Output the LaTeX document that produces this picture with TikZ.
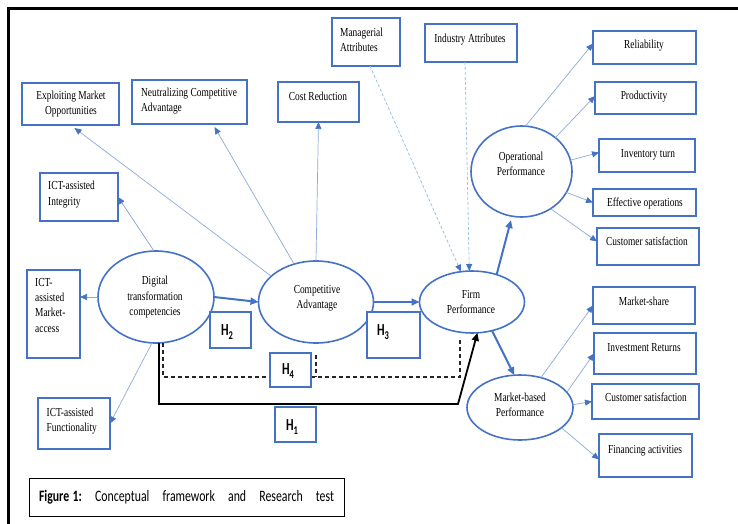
\documentclass[tikz,border=0pt]{standalone}
\usepackage{fontspec}
\setmainfont{Liberation Serif}
\newfontfamily\calfont{Carlito}
\usepackage{graphicx}
\usetikzlibrary{shapes.geometric,arrows.meta,calc}
\definecolor{bl}{HTML}{4472C4}
\definecolor{lbl}{HTML}{8EAADB}
\definecolor{dbl}{HTML}{9DC3E6}
\newcommand\txc[1]{\scalebox{1}[1.3]{\begin{tabular}{@{}c@{}}#1\end{tabular}}}
\newcommand\txl[1]{\scalebox{1}[1.3]{\begin{tabular}{@{}l@{}}#1\end{tabular}}}
\newcommand\hlab[1]{\scalebox{1}[1.4]{\calfont\bfseries H\raisebox{-2.5pt}{\fontsize{8.5}{9}\selectfont #1}}}
\begin{document}
\begin{tikzpicture}[x=1pt,y=-1pt,
  rbox/.style={draw=bl,line width=1.2pt,inner sep=0,outer sep=0},
  hbox/.style={rbox,fill=white},
  ell/.style={ellipse,draw=bl,line width=1.6pt,inner sep=0,outer sep=0},
  txt/.style={font=\fontsize{9.4}{11.8}\selectfont,inner sep=0},
  htxt/.style={font=\fontsize{12}{13}\selectfont,inner sep=0},
  tline/.style={draw=lbl,line width=0.7pt,-{Triangle[length=7pt,width=6pt,color=bl]}},
  kline/.style={draw=bl,line width=2pt,-{Triangle[length=8pt,width=7pt]}},
  dsh/.style={draw=dbl,line width=0.8pt,dash pattern=on 3pt off 2pt,-{Triangle[length=7pt,width=6pt,color=bl]}},
  hdash/.style={draw=black!85,line width=1.2pt,dash pattern=on 4pt off 3pt},
  hline/.style={draw=black,line width=1.8pt,-{Triangle[length=8pt,width=7pt]}}]
\useasboundingbox (0,0) rectangle (738,524);
\clip (0,0) rectangle (738,524);
\fill[white] (0,0) rectangle (738,524);
\draw[line width=3pt] (8.5,530) -- (8.5,9) -- (745,9);

% boxes
\node[rbox,minimum width=97,minimum height=42] (emo) at (70.5,104) {};
\node[txt] at (71,104) {\txc{Exploiting Market\\Opportunities}};
\node[rbox,minimum width=115,minimum height=44] (neu) at (189.5,102) {};
\node[txt,anchor=west] at (141,101) {\txl{Neutralizing Competitive\\Advantage}};
\node[rbox,minimum width=81,minimum height=40] (cost) at (318.5,102) {};
\node[txt] at (318,97) {\txc{Cost Reduction}};
\node[rbox,minimum width=68,minimum height=48] (mgr) at (366,42) {};
\node[txt,anchor=west] at (340,41) {\txl{Managerial\\Attributes}};
\node[rbox,minimum width=92,minimum height=38] (ind) at (471,43) {};
\node[txt] at (470,39) {\txc{Industry Attributes}};
\node[rbox,minimum width=78,minimum height=48] (int) at (79,197) {};
\node[txt,anchor=west] at (48,194.5) {\txl{ICT-assisted\\Integrity}};
\node[rbox,minimum width=53,minimum height=88] (mka) at (53.5,314) {};
\node[txt,anchor=west] at (35,306) {\txl{ICT-\\assisted\\Market-\\access}};
\node[rbox,minimum width=72,minimum height=51] (fun) at (74,423.5) {};
\node[txt,anchor=west] at (46.5,421) {\txl{ICT-assisted\\Functionality}};

\node[rbox,minimum width=103,minimum height=33] (rel) at (644.5,47.5) {};
\node[txt] at (644,45) {\txc{Reliability}};
\node[rbox,minimum width=101,minimum height=32] (pro) at (645.5,98) {};
\node[txt] at (644,96) {\txc{Productivity}};
\node[rbox,minimum width=96,minimum height=33] (inv) at (647,155.5) {};
\node[txt] at (648,154) {\txc{Inventory turn}};
\node[rbox,minimum width=103,minimum height=27] (eff) at (644.5,202.5) {};
\node[txt] at (645,203) {\txc{Effective operations}};
\node[rbox,minimum width=102,minimum height=37] (cs1) at (648,246.5) {};
\node[txt] at (647,242) {\txc{Customer satisfaction}};
\node[rbox,minimum width=102,minimum height=37] (ms) at (644,305.5) {};
\node[txt] at (644,302) {\txc{Market-share}};
\node[rbox,minimum width=102,minimum height=41] (ir) at (645,353.5) {};
\node[txt] at (644,348) {\txc{Investment Returns}};
\node[rbox,minimum width=107,minimum height=35] (cs2) at (645.5,401.5) {};
\node[txt] at (646,398) {\txc{Customer satisfaction}};
\node[rbox,minimum width=93,minimum height=43] (fin) at (645.5,455.5) {};
\node[txt] at (645,450) {\txc{Financing activities}};

% ellipses
\node[ell,minimum width=116,minimum height=92] (dtc) at (156,297) {};
\node[txt] at (155,297) {\txc{Digital\\transformation\\competencies}};
\node[ell,minimum width=115,minimum height=82] (ca) at (316,302) {};
\node[txt] at (317,298) {\txc{Competitive\\Advantage}};
\node[ell,minimum width=105,minimum height=62] (fp) at (472,302) {};
\node[txt] at (471,303) {\txc{Firm\\Performance}};
\node[ell,minimum width=101,minimum height=91] (op) at (521.5,171.5) {};
\node[txt] at (521,165) {\txc{Operational\\Performance}};
\node[ell,minimum width=106,minimum height=65] (mbp) at (520,407.5) {};
\node[txt] at (520,406) {\txc{Market-based\\Performance}};

% connectors
\draw[tline] (dtc.west) -- (dtc.west -| mka.east);
\draw[tline] ([xshift=-2pt]dtc.north) -- (int.east);
\draw[tline] ([xshift=-4pt]dtc.south) -- (fun.east);
\draw[kline] (dtc.east) -- (ca.west);
\draw[tline] (ca.150) -- ([xshift=4pt,yshift=-3pt]emo.south);
\draw[tline] (ca.120) -- ([xshift=25pt,yshift=-3pt]neu.south);
\draw[tline] (ca.north) -- (cost.south);
\draw[kline] (ca.east) -- (fp.west);
\draw[dsh] ([xshift=4pt]mgr.south) -- (fp.110);
\draw[dsh] ([xshift=-6pt]ind.south) -- (fp.95);
\draw[kline,shorten >=4pt] (fp.48) -- (op.258);
\draw[kline] (fp.305) -- (mbp.100);
\draw[tline] (op.85) -- ([yshift=4pt]rel.west);
\draw[tline] (op.45) -- ([yshift=2pt]pro.west);
\draw[tline] (op.13) -- ([yshift=3pt]inv.west);
\draw[tline] (op.335) -- (eff.west);
\draw[tline] (op.308) -- ([yshift=5pt]cs1.west);
\draw[tline] (mbp.55) -- (ms.west);
\draw[tline] (mbp.18) -- (ir.west);
\draw[tline] (mbp.3) -- (cs2.west);
\draw[tline] (mbp.334) -- ([yshift=-4pt]fin.west);

% hypothesis paths
\coordinate (h4c) at (460,377);
\coordinate (h1c) at (458,404);
\draw[hdash] ([xshift=7pt]dtc.south) |- (h4c) -- ([xshift=-12pt,yshift=-4pt]fp.south);
\draw[hdash] ([yshift=-12pt]ca.south) -- (ca.south |- h4c);
\draw[hline] ([xshift=3pt]dtc.south) |- (h1c) -- (fp.280);

% hypothesis labels
\node[hbox,minimum width=41,minimum height=36] (h2) at (230.5,330) {};
\node[htxt] at (227,332) {\hlab{2}};
\node[hbox,minimum width=53,minimum height=46] (h3) at (393.5,335) {};
\node[htxt] at (383,332) {\hlab{3}};
\node[hbox,minimum width=41,minimum height=34] (h4) at (290.5,370) {};
\node[htxt] at (288,371) {\hlab{4}};
\node[hbox,minimum width=41,minimum height=35] (h1) at (295.5,424.5) {};
\node[htxt] at (292,427) {\hlab{1}};

% caption
\node[draw=black,line width=1pt,fill=white,inner sep=0,outer sep=0,minimum width=315,minimum height=38] (cap) at (186.5,497) {};
\node[inner sep=0,font=\calfont\fontsize{11.8}{13}\selectfont] at (186.5,497) {\scalebox{1}[1.35]{\frenchspacing\makebox[295pt][s]{\textbf{Figure\hspace{3.5pt}1:} Conceptual framework and Research test}}};
\end{tikzpicture}
\end{document}
